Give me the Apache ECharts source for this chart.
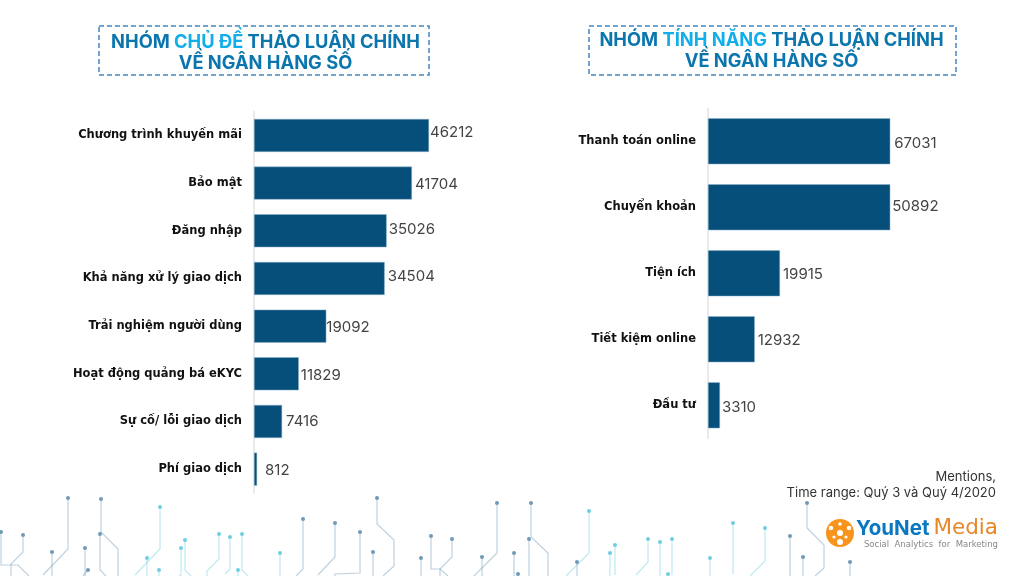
<!DOCTYPE html>
<html>
<head>
<meta charset="utf-8">
<style>html,body{margin:0;padding:0;background:#fff}#main{width:1024px;height:576px}</style>
<script src="https://cdn.jsdelivr.net/npm/echarts@6/dist/echarts.min.js"></script>
</head>
<body>
<div id="main"></div>
<script>
const topicNames = ['Chương trình khuyến mãi', 'Bảo mật', 'Đăng nhập', 'Khả năng xử lý giao dịch', 'Trải nghiệm người dùng', 'Hoạt động quảng bá eKYC', 'Sự cố/ lỗi giao dịch', 'Phí giao dịch'];
const topicValues = [46212, 41704, 35026, 34504, 19092, 11829, 7416, 812];
const featureNames = ['Thanh toán online', 'Chuyển khoản', 'Tiện ích', 'Tiết kiệm online', 'Đầu tư'];
const featureValues = [67031, 50892, 19915, 12932, 3310];

// nhan so trong ban goc dat tay, lech it so voi cuoi cot
const topicLabelShift = [[-2,-3],[0,1],[-1,-1],[0,-2],[-3,1],[-1,2],[1,0],[5,1]];
const featureLabelShift = [[1,2],[-1,-1],[0,1],[0,1],[-1,2]];

const FONT = 'Inter, "Noto Sans", sans-serif';
const WIDE = '"DejaVu Sans", sans-serif';
const BAR = '#054f7a';

// trang tri mach o chan trang: [mau, diem dau co cham, ...cac diem tiep theo]
const DARK = '#6f9ab8', TEAL = '#6fcfe0';
const circuit = [
  [DARK, [1,532],[1,565],[18,565],[29,576]], [DARK, [23,535],[23,552],[11,564],[11,576]],
  [DARK, [68,498],[68,549],[43,575]], [DARK, [52,552],[52,576]],
  [DARK, [101,499],[101,532],[118,549],[118,576]], [DARK, [100,534],[100,570],[106,576]],
  [DARK, [85,548],[85,576]], [DARK, [88,570],[83,576]],
  [TEAL, [160,507],[160,549],[135,575]], [TEAL, [147,558],[147,576]], [TEAL, [159,570],[159,576]],
  [TEAL, [185,540],[185,570],[191,576]], [TEAL, [181,548],[181,575],[179,576]],
  [TEAL, [219,534],[219,559],[207,571],[207,576]], [TEAL, [230,537],[230,569],[225,574]],
  [TEAL, [242,534],[242,570],[248,576]], [TEAL, [238,570],[238,576]],
  [TEAL, [280,553],[280,576]], [DARK, [303,519],[303,569],[296,576]],
  [DARK, [335,523],[335,557],[318,575]], [DARK, [360,532],[360,573],[335,574],[335,576]],
  [DARK, [373,552],[373,576]], [DARK, [377,498],[377,524],[394,540],[394,566],[383,576]],
  [DARK, [421,558],[421,576]], [DARK, [431,536],[431,569],[440,569],[448,576]],
  [DARK, [452,539],[452,557],[440,569],[440,576]], [DARK, [482,557],[482,576]],
  [DARK, [497,503],[497,553],[474,576]],
  [DARK, [531,503],[531,537],[548,553],[548,576]], [DARK, [529,539],[529,576]],
  [TEAL, [589,511],[589,553],[566,576]], [DARK, [577,562],[577,576]],
  [DARK, [514,553],[514,576]], [DARK, [518,574],[518,576]],
  [TEAL, [610,553],[610,576]], [TEAL, [615,545],[615,575]], [TEAL, [648,539],[648,562],[636,575]],
  [TEAL, [660,542],[660,576]], [TEAL, [672,539],[672,575]], [TEAL, [668,574],[668,576]],
  [TEAL, [710,558],[710,576]], [TEAL, [733,523],[733,574]], [TEAL, [765,528],[765,561],[750,576]],
  [DARK, [790,536],[790,576]], [DARK, [807,503],[807,528],[824,545],[824,568],[815,576]],
  [DARK, [803,557],[803,576]], [DARK, [850,562],[850,576]]
];

const graphics = [];
circuit.forEach(c => {
  const pts = c.slice(1);
  graphics.push({type: 'polyline', silent: true, shape: {points: pts},
    style: {stroke: c[0], lineWidth: 1.2, fill: null, opacity: 0.45}});
  graphics.push({type: 'circle', silent: true, shape: {cx: pts[0][0], cy: pts[0][1], r: 2},
    style: {fill: c[0]}});
});

// khung net dut quanh tieu de
[[99, 26, 330, 49], [589, 26, 367, 49]].forEach(b => {
  graphics.push({type: 'rect', silent: true, shape: {x: b[0], y: b[1], width: b[2], height: b[3]},
    style: {fill: null, stroke: '#3f87c4', lineWidth: 1.5, lineDash: [5, 3]}});
});

// logo YouNet Media
graphics.push({type: 'circle', silent: true, shape: {cx: 840, cy: 533, r: 14}, style: {fill: '#f7941d'}});
[[840,533,3],[840,542,3],[831,528,2.2],[849,528,2.2],[834,537,1.6],[846,537,1.6],[840,524,1.8]].forEach(n => {
  graphics.push({type: 'circle', silent: true, shape: {cx: n[0], cy: n[1], r: n[2]}, style: {fill: '#fff'}});
});
graphics.push({type: 'text', silent: true, x: 856, y: 518, style: {
  text: 'YouNet', fill: '#0a78c0', fontSize: 20.5, fontWeight: 700, fontFamily: FONT}});
graphics.push({type: 'text', silent: true, x: 998, y: 517, style: {
  text: 'Media', fill: '#e8862a', fontSize: 21.5, fontWeight: 400, fontFamily: WIDE, align: 'right'}});
graphics.push({type: 'text', silent: true, x: 998, y: 540, style: {
  text: 'Social  Analytics  for  Marketing', fill: '#888', fontSize: 8.5, fontFamily: WIDE, align: 'right'}});

// ghi chu
graphics.push({type: 'text', silent: true, x: 996, y: 469, style: {
  text: 'Mentions,\nTime range: Quý 3 và Quý 4/2020', fill: '#333', fontSize: 13, lineHeight: 16,
  fontFamily: FONT, align: 'right'}});

function titleOf(x, y, hi) {
  return {
    left: x, top: y, textAlign: 'center',
    text: '{n|NHÓM }{h|' + hi + '}{n| THẢO LUẬN CHÍNH}\n{n|VỀ NGÂN HÀNG SỐ}',
    textStyle: {
      rich: {
        n: {fontSize: 18.3, fontWeight: 700, color: '#0a76ad', fontFamily: FONT, lineHeight: 21},
        h: {fontSize: 18.3, fontWeight: 700, color: '#12aeea', fontFamily: FONT, lineHeight: 21}
      }
    }
  };
}

function yAxisOf(i, names) {
  return {
    gridIndex: i, type: 'category', inverse: true, data: names,
    axisTick: {show: false},
    axisLine: {lineStyle: {color: '#e3e3e3', width: 1.5}},
    axisLabel: {margin: 12, color: '#111', fontSize: 11.5, fontWeight: 700, fontFamily: WIDE, padding: [3, 0, 0, 0]}
  };
}

function seriesOf(i, values, shifts, width) {
  return {
    type: 'bar', xAxisIndex: i, yAxisIndex: i, barWidth: width, clip: true,
    data: values.map((v, k) => ({value: v, label: {offset: shifts[k]}})),
    itemStyle: {color: BAR, borderColor: '#8fb2c9', borderWidth: 0.5},
    label: {show: true, position: 'right', distance: 3, color: '#444', fontSize: 15, fontFamily: FONT}
  };
}

echarts.init(document.getElementById('main')).setOption({
  animation: false,
  backgroundColor: '#fff',
  title: [titleOf(260.5, 27, 'CHỦ ĐỀ'), titleOf(766.5, 25, 'TÍNH NĂNG')],
  grid: [
    {left: 254, top: 111.6, width: 240, height: 381.4},
    {left: 708, top: 108.3, width: 182, height: 330}
  ],
  xAxis: [
    {gridIndex: 0, type: 'value', min: 0, max: 63375, show: false},
    {gridIndex: 1, type: 'value', min: 0, max: 50350, show: false}
  ],
  yAxis: [yAxisOf(0, topicNames), yAxisOf(1, featureNames)],
  series: [seriesOf(0, topicValues, topicLabelShift, 33), seriesOf(1, featureValues, featureLabelShift, 46)],
  graphic: graphics
});
</script>
</body>
</html>
